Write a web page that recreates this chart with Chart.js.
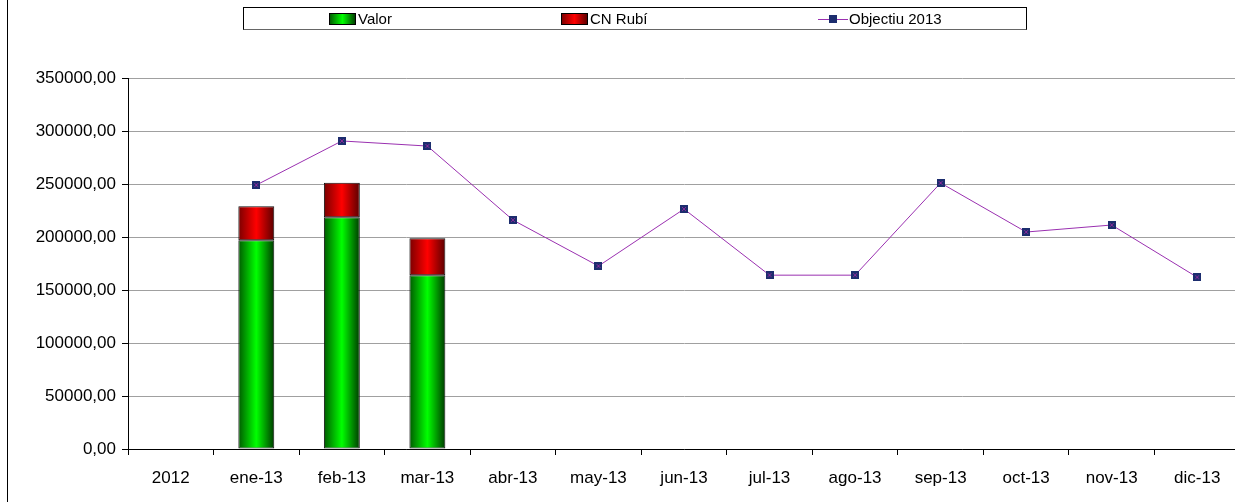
<!DOCTYPE html>
<html>
<head>
<meta charset="utf-8">
<script src="https://cdn.jsdelivr.net/npm/chart.js@4"></script>
<style>
  html, body { margin: 0; padding: 0; background: #fff; overflow: hidden; }
  #wrap { position: relative; width: 1245px; height: 502px; }
  #frame { position: absolute; left: 7px; top: 0; width: 1px; height: 502px; background: #000; }
  #legend {
    position: absolute; left: 243px; top: 7px; width: 784px; height: 23px;
    border: 1px solid #000; box-sizing: border-box; border-bottom-color: #666;
    font-family: "Liberation Sans", Arial, sans-serif; font-size: 15px; color: #000;
  }
  .item { position: absolute; top: 3px; line-height: 16px; white-space: nowrap; }
  .sw { display: inline-block; width: 27px; height: 12px; border: 1px solid #000; box-sizing: border-box; vertical-align: -1px; margin-right: 2px; }
  .ln { display: inline-block; position: relative; width: 30px; height: 12px; vertical-align: -1px; margin-right: 1px; }
  .ln::before { content: ""; position: absolute; left: 0; right: 0; top: 6px; height: 1px; background: #9a30b0; }
  .ln::after { content: ""; position: absolute; left: 11px; top: 2px; width: 8px; height: 8px; background: #1c2d6e; }
</style>
</head>
<body>
<div id="wrap">
  <canvas id="chart" width="1245" height="502"></canvas>
  <div id="frame"></div>
  <div id="legend">
    <span class="item" style="left:85px"><span class="sw" style="background:linear-gradient(90deg,#006000,#00ff00,#004000)"></span>Valor</span>
    <span class="item" style="left:317px"><span class="sw" style="background:linear-gradient(90deg,#800000,#ff0000,#600000)"></span>CN Rubí</span>
    <span class="item" style="left:574px"><span class="ln"></span>Objectiu 2013</span>
  </div>
</div>
<script>
const categories = ['2012', 'ene-13', 'feb-13', 'mar-13', 'abr-13', 'may-13', 'jun-13',
    'jul-13', 'ago-13', 'sep-13', 'oct-13', 'nov-13', 'dic-13'];
const valor = [null, 197000, 218600, 163900, null, null, null, null, null, null, null, null, null];
const cnRubi = [null, 32000, 32600, 34900, null, null, null, null, null, null, null, null, null];
const objectiu = [null, 249000, 290600, 285800, 216000, 172600, 226400, 164000, 164000, 251000, 204700, 211300, 162000];
const yMax = 350000;
const yStep = 50000;

const FONT = '"Liberation Sans", Arial, sans-serif';

// marcador: cuadrado azul marino con aspa morada
function makeMarker() {
    const c = document.createElement('canvas');
    c.width = 8; c.height = 8;
    const g = c.getContext('2d');
    g.fillStyle = '#1c2d6e';
    g.fillRect(0, 0, 8, 8);
    g.strokeStyle = '#8a2a9a';
    g.lineWidth = 1;
    g.beginPath();
    g.moveTo(2, 2); g.lineTo(6, 6);
    g.moveTo(6, 2); g.lineTo(2, 6);
    g.stroke();
    return c;
}

function barGradient(dark1, bright, dark2) {
    return context => {
        const chart = context.chart;
        const xs = chart.scales.x;
        if (!xs || context.dataIndex === undefined) return bright;
        const cx = xs.getPixelForValue(context.dataIndex);
        const w = xs.width / categories.length * 0.42;
        if (!isFinite(cx) || !isFinite(w) || w <= 0) return bright;
        const g = chart.ctx.createLinearGradient(cx - w / 2, 0, cx + w / 2, 0);
        g.addColorStop(0, dark1);
        g.addColorStop(0.5, bright);
        g.addColorStop(1, dark2);
        return g;
    };
}

const fmt = v => v.toFixed(2).replace('.', ',');

new Chart(document.getElementById('chart'), {
    data: {
        labels: categories,
        datasets: [
            {
                type: 'bar',
                label: 'Valor',
                data: valor,
                stack: 'bars',
                backgroundColor: barGradient('#005a00', '#00ff00', '#003a00'),
                borderColor: '#111',
                borderWidth: 1,
                borderSkipped: false,
                categoryPercentage: 1,
                barPercentage: 0.42,
                order: 2
            },
            {
                type: 'bar',
                label: 'CN Rubí',
                data: cnRubi,
                stack: 'bars',
                backgroundColor: barGradient('#7a0000', '#ff0000', '#5a0000'),
                borderColor: '#111',
                borderWidth: 1,
                borderSkipped: false,
                categoryPercentage: 1,
                barPercentage: 0.42,
                order: 2
            },
            {
                type: 'line',
                label: 'Objectiu 2013',
                data: objectiu,
                stack: 'line',
                borderColor: '#9a30b0',
                borderWidth: 1,
                pointStyle: makeMarker(),
                pointRadius: 4,
                tension: 0,
                spanGaps: false,
                order: 1
            }
        ]
    },
    options: {
        responsive: false,
        animation: false,
        events: [],
        layout: { padding: { top: 78, left: 0, right: 0, bottom: 0 } },
        plugins: { legend: { display: false }, tooltip: { enabled: false } },
        scales: {
            x: {
                stacked: true,
                offset: true,
                grid: { offset: true, drawOnChartArea: false, tickLength: 6, color: '#000', tickColor: '#000' },
                border: { color: '#000', width: 1 },
                ticks: { color: '#000', font: { family: FONT, size: 17 }, padding: 13, maxRotation: 0, autoSkip: false },
                afterFit: s => { s.height = 53; }
            },
            y: {
                stacked: true,
                min: 0,
                max: yMax,
                grid: { color: '#a0a0a0', tickColor: '#000', tickLength: 6 },
                border: { color: '#000', width: 1 },
                ticks: { stepSize: yStep, color: '#000', font: { family: FONT, size: 17 }, padding: 6, callback: v => fmt(v) },
                afterFit: s => { s.width = 128; }
            }
        }
    }
});
</script>
</body>
</html>
